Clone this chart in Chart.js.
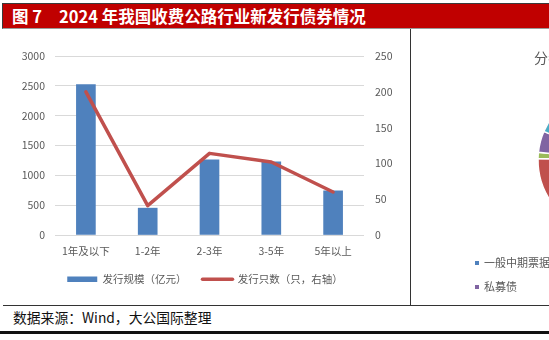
<!DOCTYPE html>
<html lang="zh-CN">
<head>
<meta charset="utf-8">
<title>2024年我国收费公路行业新发行债券情况</title>
<script src="https://cdn.jsdelivr.net/npm/chart.js@4.4.1/dist/chart.umd.min.js"></script>
<style>
    html, body { margin: 0; padding: 0; background: #fff; }
    body {
        width: 549px; height: 340px; position: relative; overflow: hidden;
        font-family: "Noto Sans CJK SC", "Noto Sans", sans-serif;
    }
    #titulo {
        position: absolute; left: 2px; top: 3px; width: 547px; height: 26px;
        box-sizing: border-box; background: #C00000;
        border-top: 1px solid #3a3a3a; border-left: 1px solid #3a3a3a; border-bottom: 1px solid #9a9a9a;
        color: #fff; font-weight: bold; font-size: 16.5px; line-height: 24px; padding-left: 9px;
        white-space: nowrap;
    }
    #titulo .num { margin-right: 17px; }
    #grafico { position: absolute; left: 0; top: 30px; }
    #pizza { position: absolute; left: 411px; top: 30px; }
    #divisor { position: absolute; left: 410px; top: 29px; width: 1px; height: 277px; background: #333; }
    #linha-base { position: absolute; left: 3px; top: 305px; width: 546px; height: 1px; background: #333; }
    #fonte {
        position: absolute; left: 13px; top: 307px; font-size: 13.8px; color: #111;
        line-height: 20px; white-space: nowrap;
    }
    #linha-fim { position: absolute; left: 0; top: 331px; width: 549px; height: 3px; background: #111; }
    #pizza-titulo {
        position: absolute; left: 411px; top: 47px; width: 400px; text-align: center;
        font-size: 14px; color: #595959; white-space: nowrap;
    }
    #pizza-legenda {
        position: absolute; left: 475px; top: 254px; width: 290px;
        display: grid; grid-template-columns: repeat(3, 90px); row-gap: 7px;
        font-size: 11px; color: #595959; line-height: 17px; white-space: nowrap;
    }
    #pizza-legenda span.box {
        display: inline-block; width: 4px; height: 4px; margin-right: 5px; vertical-align: middle;
        position: relative; top: -1px;
    }
</style>
</head>
<body>
<div id="titulo"><span class="num">图 7</span>2024 年我国收费公路行业新发行债券情况</div>
<canvas id="grafico" width="410" height="275"></canvas>
<canvas id="pizza" width="400" height="275"></canvas>
<div id="pizza-titulo">分券种发行规模（亿元）</div>
<div id="pizza-legenda"></div>
<div id="divisor"></div>
<div id="linha-base"></div>
<div id="fonte">数据来源：Wind，大公国际整理</div>
<div id="linha-fim"></div>

<script>
// 期限分布
const prazos = ["1年及以下", "1-2年", "2-3年", "3-5年", "5年以上"];
const escala = [2520, 450, 1260, 1225, 740];   // 发行规模（亿元）
const quantidade = [200, 41, 114, 102, 60];     // 发行只数（只）
const ticksEscala = [0, 500, 1000, 1500, 2000, 2500, 3000];
const ticksQuantidade = [0, 50, 100, 150, 200, 250];

// 券种分布
const tipos = ["一般中期票据", "一般公司债", "超短期融资券", "私募债", "定向工具"];
const partes = [55.0, 20.3, 1.4, 4.7, 18.6];
const coresTipos = ["#4F81BD", "#C0504D", "#9BBB59", "#8064A2", "#4BACC6"];

const AZUL = "#4F81BD";
const VERMELHO = "#C0504D";
const CINZA = "#595959";
const fonte = { family: "'Noto Sans CJK SC', sans-serif", size: 10.5 };

function renderizarGraficoPrazos() {
    const ctx = document.getElementById("grafico").getContext("2d");

    new Chart(ctx, {
        data: {
            labels: prazos,
            datasets: [{
                type: "bar",
                label: "发行规模（亿元）",
                data: escala,
                backgroundColor: AZUL,
                barThickness: 19,
                yAxisID: "y",
                order: 2
            }, {
                type: "line",
                label: "发行只数（只，右轴）",
                data: quantidade,
                borderColor: VERMELHO,
                backgroundColor: VERMELHO,
                borderWidth: 3.5,
                borderJoinStyle: "round",
                borderCapStyle: "round",
                pointRadius: 0,
                tension: 0,
                yAxisID: "y1",
                order: 1
            }]
        },
        options: {
            responsive: false,
            animation: false,
            devicePixelRatio: 1,
            layout: { padding: { top: 26, bottom: 10.5, left: 0, right: 0 } },
            plugins: {
                tooltip: { enabled: false },
                legend: {
                    position: "bottom",
                    labels: {
                        usePointStyle: true,
                        pointStyleWidth: 30,
                        boxHeight: 5.5,
                        padding: 16,
                        color: CINZA,
                        font: fonte,
                        sort: (a, b) => a.datasetIndex - b.datasetIndex,
                        generateLabels: function (chart) {
                            return chart.data.datasets.map((ds, i) => ({
                                text: ds.label,
                                datasetIndex: i,
                                fillStyle: ds.backgroundColor,
                                strokeStyle: ds.borderColor || ds.backgroundColor,
                                lineWidth: ds.type === "line" ? 3.5 : 0,
                                lineCap: "round",
                                pointStyle: ds.type === "line" ? "line" : "rect",
                                fontColor: CINZA,
                                hidden: false
                            }));
                        }
                    }
                }
            },
            scales: {
                x: {
                    grid: { display: false, drawTicks: false },
                    border: { display: false },
                    afterFit: s => { s.height = 23; },
                    ticks: { color: CINZA, font: fonte, padding: 10 }
                },
                y: {
                    position: "left",
                    min: ticksEscala[0],
                    max: ticksEscala[ticksEscala.length - 1],
                    afterBuildTicks: s => { s.ticks = ticksEscala.map(v => ({ value: v })); },
                    afterFit: s => { s.width = 55; },
                    grid: { color: "#D9D9D9", drawTicks: false },
                    border: { display: false },
                    ticks: { color: CINZA, font: fonte, padding: 10, callback: v => String(v) }
                },
                y1: {
                    position: "right",
                    min: ticksQuantidade[0],
                    max: ticksQuantidade[ticksQuantidade.length - 1],
                    afterBuildTicks: s => { s.ticks = ticksQuantidade.map(v => ({ value: v })); },
                    afterFit: s => { s.width = 46; },
                    grid: { display: false, drawTicks: false },
                    border: { display: false },
                    ticks: { color: CINZA, font: fonte, padding: 11, callback: v => String(v) }
                }
            }
        }
    });
}

function renderizarGraficoTipos() {
    const ctx = document.getElementById("pizza").getContext("2d");

    new Chart(ctx, {
        type: "pie",
        data: {
            labels: tipos,
            datasets: [{
                data: partes,
                backgroundColor: coresTipos,
                borderColor: "#fff",
                borderWidth: 1.5,
                hoverOffset: 0,
                offset: 0
            }]
        },
        options: {
            responsive: false,
            animation: false,
            devicePixelRatio: 1,
            radius: 73,
            layout: { padding: { bottom: 15 } },
            plugins: { legend: { display: false }, tooltip: { enabled: false } }
        }
    });

    // legenda em três colunas, como no original
    const legenda = document.getElementById("pizza-legenda");
    tipos.forEach((t, i) => {
        const item = document.createElement("div");
        item.innerHTML = `<span class="box" style="background:${coresTipos[i]}"></span>${t}`;
        legenda.appendChild(item);
    });
}

document.addEventListener("DOMContentLoaded", () => {
    renderizarGraficoPrazos();
    renderizarGraficoTipos();
});
</script>
</body>
</html>
